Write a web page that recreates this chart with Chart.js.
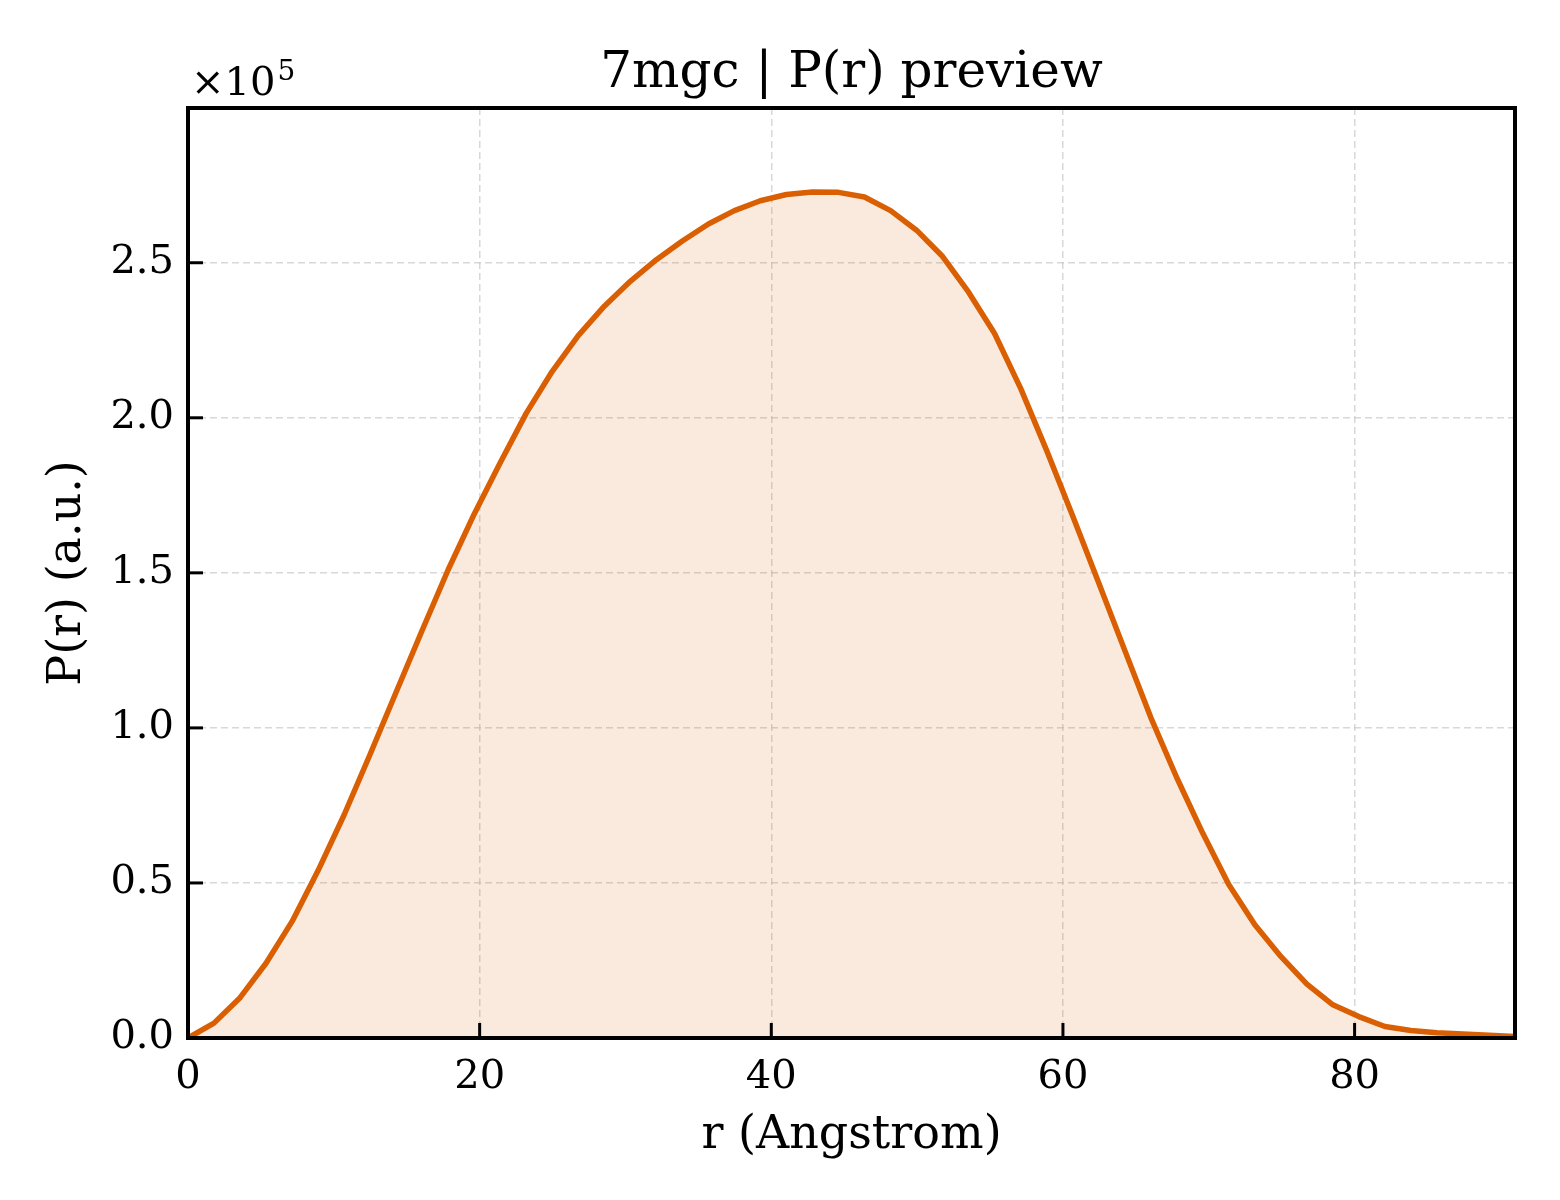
<!DOCTYPE html>
<html>
<head>
<meta charset="utf-8">
<script src="https://cdn.jsdelivr.net/npm/chart.js@4/dist/chart.umd.min.js"></script>
<style>
  html, body { margin: 0; padding: 0; background: #ffffff; }
  #wrap { width: 1560px; height: 1200px; }
</style>
</head>
<body>
<div id="wrap"><canvas id="c" width="1560" height="1200"></canvas></div>
<script>
// ---- data ----
const titleText = "7mgc | P(r) preview";
const xLabel = "r (Angstrom)";
const yLabel = "P(r) (a.u.)";
const r = [0.00, 1.78, 3.57, 5.35, 7.14, 8.92, 10.71, 12.49, 14.27, 16.06,
           17.84, 19.63, 21.41, 23.20, 24.98, 26.76, 28.55, 30.33, 32.12, 33.90,
           35.69, 37.47, 39.25, 41.04, 42.82, 44.61, 46.39, 48.18, 49.96, 51.75,
           53.53, 55.31, 57.10, 58.88, 60.67, 62.45, 64.24, 66.02, 67.80, 69.59,
           71.37, 73.16, 74.94, 76.73, 78.51, 80.29, 82.08, 83.86, 85.65, 87.43,
           89.22, 91.00];
const pr = [0, 4800, 13000, 24100, 37600, 54000, 72000, 91500, 111500, 131500,
            151000, 169000, 185500, 201500, 215000, 226500, 236000, 244000, 251000, 257000,
            262500, 266800, 270000, 272000, 272800, 272700, 271200, 266800, 260500, 252000,
            240500, 227200, 209500, 189500, 168300, 146800, 125000, 103400, 84000, 66000,
            49500, 36500, 26300, 17400, 10700, 6900, 3700, 2400, 1700, 1300,
            900, 500];
const xTicks = [0, 20, 40, 60, 80];
const yTicks = [0, 50000, 100000, 150000, 200000, 250000];
const yScaleExp = 5;

const FONT = "'DejaVu Serif', 'Liberation Serif', serif";
const LINE = "#d95f02";

const framePlugin = {
  id: 'frame',
  afterDatasetsDraw(chart) {
    const {ctx, chartArea: a, scales} = chart;
    ctx.save();
    ctx.strokeStyle = '#000';
    ctx.lineWidth = 3;
    ctx.lineCap = 'butt';
    scales.x.ticks.forEach(t => {
      const px = scales.x.getPixelForValue(t.value);
      ctx.beginPath(); ctx.moveTo(px, a.bottom); ctx.lineTo(px, a.bottom - 15); ctx.stroke();
    });
    scales.y.ticks.forEach(t => {
      const py = scales.y.getPixelForValue(t.value);
      ctx.beginPath(); ctx.moveTo(a.left, py); ctx.lineTo(a.left + 15, py); ctx.stroke();
    });
    ctx.lineWidth = 4;
    ctx.strokeRect(a.left, a.top, a.right - a.left, a.bottom - a.top);
    ctx.restore();
  },
  afterDraw(chart) {
    const {ctx, chartArea: a} = chart;
    ctx.save();
    ctx.fillStyle = '#000';
    ctx.font = "50px " + FONT;
    ctx.textAlign = 'center';
    ctx.textBaseline = 'alphabetic';
    ctx.fillText(titleText, (a.left + a.right) / 2, 87);
    ctx.textAlign = 'left';
    ctx.font = "40px " + FONT;
    const base = "\u00d710";
    ctx.fillText(base, a.left + 3, 95);
    const w = ctx.measureText(base).width;
    ctx.font = "28px " + FONT;
    ctx.fillText(String(yScaleExp), a.left + 3 + w + 2, 80);
    ctx.restore();
  }
};

const onlyListed = list => scale => {
  scale.ticks = list.map(v => ({value: v}));
};

const gridOpts = { color: 'rgba(195,195,195,0.65)', lineWidth: 1.5, drawTicks: false, tickLength: 0 };
const borderOpts = { display: false, dash: [7, 4] };

new Chart(document.getElementById('c'), {
  type: 'line',
  data: {
    datasets: [{
      data: r.map((x, i) => ({x: x, y: pr[i]})),
      borderColor: LINE,
      borderWidth: 5.5,
      backgroundColor: 'rgba(217,95,2,0.13)',
      fill: 'origin',
      pointRadius: 0,
      tension: 0,
      borderJoinStyle: 'round',
      borderCapStyle: 'round'
    }]
  },
  options: {
    responsive: false,
    devicePixelRatio: 1,
    animation: false,
    layout: { padding: { top: 108, right: 45, left: 0, bottom: 0 } },
    plugins: { legend: { display: false }, title: { display: false }, tooltip: { enabled: false } },
    scales: {
      x: {
        type: 'linear',
        min: 0,
        max: r[r.length - 1],
        afterBuildTicks: onlyListed(xTicks),
        afterFit: s => { s.height = 162; },
        border: borderOpts,
        grid: gridOpts,
        ticks: {
          padding: 16, color: '#000', maxRotation: 0,
          font: { family: FONT, size: 40 },
          callback: v => String(v)
        },
        title: {
          display: true, text: xLabel, color: '#000',
          font: { family: FONT, size: 46 },
          padding: { top: 0, bottom: 36 }
        }
      },
      y: {
        type: 'linear',
        min: 0,
        max: 299900,
        afterBuildTicks: onlyListed(yTicks),
        afterFit: s => { s.width = 188; },
        border: borderOpts,
        grid: gridOpts,
        ticks: {
          padding: 14, color: '#000',
          font: { family: FONT, size: 40 },
          callback: v => (v / Math.pow(10, yScaleExp)).toFixed(1)
        },
        title: {
          display: true, text: yLabel, color: '#000',
          font: { family: FONT, size: 46 },
          padding: { top: 40, bottom: 0 }
        }
      }
    }
  },
  plugins: [framePlugin]
});
</script>
</body>
</html>
